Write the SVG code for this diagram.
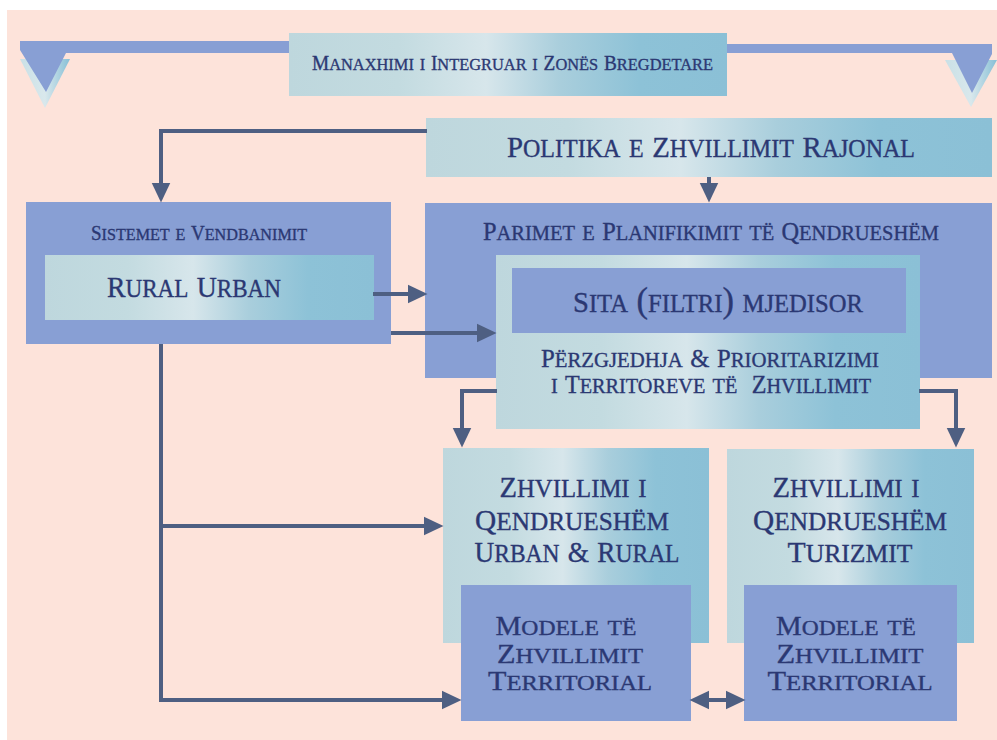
<svg xmlns="http://www.w3.org/2000/svg" width="997" height="740" viewBox="0 0 997 740">
<defs>
<style>
.t{font-family:"Liberation Serif","DejaVu Serif",serif;font-variant:small-caps;fill:#2b3873;stroke:#2b3873;stroke-width:0.35;text-anchor:middle}
.blue{fill:#889fd4}
.grad{fill:url(#g)}
.ln{fill:none;stroke:#4e5f82;stroke-width:4}
.ar{marker-end:url(#ah)}
</style>
<linearGradient id="g" x1="0" y1="0" x2="1" y2="0">
<stop offset="0" stop-color="#bed7dd"/>
<stop offset="0.25" stop-color="#c3dbe0"/>
<stop offset="0.45" stop-color="#d7e6eb"/>
<stop offset="0.62" stop-color="#a9cedc"/>
<stop offset="0.8" stop-color="#8dc2d7"/>
<stop offset="1" stop-color="#8bc0d6"/>
</linearGradient>
<linearGradient id="gt" x1="0" y1="0" x2="1" y2="0">
<stop offset="0" stop-color="#c9e0e6"/>
<stop offset="0.5" stop-color="#d9e8ec"/>
<stop offset="1" stop-color="#86bfd6"/>
</linearGradient>
<marker id="ah" markerUnits="userSpaceOnUse" markerWidth="20" markerHeight="20" viewBox="0 0 19 18" refX="9" refY="9" orient="auto">
<path d="M0,0 L19,9 L0,18 z" fill="#4e5f82"/>
</marker>
<marker id="ahs" markerUnits="userSpaceOnUse" markerWidth="20" markerHeight="20" viewBox="0 0 19 18" refX="10" refY="9" orient="auto">
<path d="M19,0 L0,9 L19,18 z" fill="#4e5f82"/>
</marker>
</defs>
<rect x="7" y="10" width="990" height="730" fill="#fde3da"/>

<g id="top-bar">
<polygon points="20,59 70,59 45,108" fill="url(#gt)"/>
<polygon points="945,60 997,60 971,107" fill="url(#gt)"/>
<polygon class="blue" points="20,41 290,41 290,53 66,53 46,92 20,50"/>
<polygon class="blue" points="727,44 992,44 992,54 972,93 952,53 727,53"/>
</g>

<g id="banner">
<rect class="grad" x="289" y="33" width="438" height="63"/>
<text class="t" x="512.5" y="70" font-size="24" textLength="401" lengthAdjust="spacingAndGlyphs"><tspan font-size="20">M</tspan>anaxhimi i <tspan font-size="20">I</tspan>ntegruar i <tspan font-size="20">Z</tspan>onës <tspan font-size="20">B</tspan>regdetare</text>
</g>

<g id="politika">
<rect class="grad" x="426" y="118" width="566" height="59"/>
<text class="t" x="711" y="157" font-size="36" textLength="408" lengthAdjust="spacingAndGlyphs"><tspan font-size="30">P</tspan>olitika e <tspan font-size="30">Z</tspan>hvillimit <tspan font-size="30">R</tspan>ajonal</text>
</g>

<g id="sistemet">
<rect class="blue" x="26" y="202" width="365" height="142"/>
<text class="t" x="199" y="240" font-size="24" textLength="216" lengthAdjust="spacingAndGlyphs"><tspan font-size="20">S</tspan>istemet e <tspan font-size="20">V</tspan>endbanimit</text>
</g>
<g id="rural-urban">
<rect class="grad" x="45" y="255" width="329" height="65"/>
<text class="t" x="194" y="297" font-size="36" textLength="174" lengthAdjust="spacingAndGlyphs"><tspan font-size="30">R</tspan>ural <tspan font-size="30">U</tspan>rban</text>
</g>

<g id="parimet">
<rect class="blue" x="425" y="203" width="567" height="175"/>
<text class="t" x="711" y="240" font-size="30" textLength="456" lengthAdjust="spacingAndGlyphs"><tspan font-size="25">P</tspan>arimet e <tspan font-size="25">P</tspan>lanifikimit të <tspan font-size="25">Q</tspan>endrueshëm</text>
</g>
<g id="perzgjedhja">
<rect class="grad" x="496" y="255" width="424" height="174"/>
<text class="t" x="710" y="367" font-size="30" textLength="338" lengthAdjust="spacingAndGlyphs"><tspan font-size="25">P</tspan>ërzgjedhja <tspan font-size="25">&amp;</tspan> <tspan font-size="25">P</tspan>rioritarizimi</text>
<text class="t" x="711" y="393" font-size="30" textLength="320" lengthAdjust="spacingAndGlyphs" xml:space="preserve">i <tspan font-size="25">T</tspan>erritoreve të  <tspan font-size="25">Z</tspan>hvillimit</text>
</g>
<g id="sita">
<rect class="blue" x="512" y="268" width="394" height="65"/>
<text class="t" x="718" y="312" font-size="35" textLength="290" lengthAdjust="spacingAndGlyphs"><tspan font-size="29">S</tspan>ita (filtri) mjedisor</text>
</g>

<g id="zhvillimi-urban">
<rect class="grad" x="443" y="448" width="266" height="195"/>
<text class="t" x="573" y="497" font-size="35" textLength="147" lengthAdjust="spacingAndGlyphs"><tspan font-size="29">Z</tspan>hvillimi i</text>
<text class="t" x="572" y="530" font-size="35" textLength="194" lengthAdjust="spacingAndGlyphs"><tspan font-size="29">Q</tspan>endrueshëm</text>
<text class="t" x="577" y="562" font-size="35" textLength="205" lengthAdjust="spacingAndGlyphs"><tspan font-size="29">U</tspan>rban <tspan font-size="29">&amp;</tspan> <tspan font-size="29">R</tspan>ural</text>
</g>
<g id="zhvillimi-turizmit">
<rect class="grad" x="727" y="449" width="247" height="194"/>
<text class="t" x="846" y="497" font-size="35" textLength="147" lengthAdjust="spacingAndGlyphs"><tspan font-size="29">Z</tspan>hvillimi i</text>
<text class="t" x="850" y="530" font-size="35" textLength="194" lengthAdjust="spacingAndGlyphs"><tspan font-size="29">Q</tspan>endrueshëm</text>
<text class="t" x="850" y="562" font-size="35" textLength="125" lengthAdjust="spacingAndGlyphs"><tspan font-size="29">T</tspan>urizmit</text>
</g>

<g id="modele-1">
<rect class="blue" x="461" y="585" width="230" height="136"/>
<text class="t" x="566" y="635" font-size="32" textLength="141" lengthAdjust="spacingAndGlyphs"><tspan font-size="27">M</tspan>odele të</text>
<text class="t" x="570" y="663" font-size="32" textLength="146" lengthAdjust="spacingAndGlyphs"><tspan font-size="27">Z</tspan>hvillimit</text>
<text class="t" x="570" y="690" font-size="32" textLength="164" lengthAdjust="spacingAndGlyphs"><tspan font-size="27">T</tspan>erritorial</text>
</g>
<g id="modele-2">
<rect class="blue" x="744" y="585" width="213" height="136"/>
<text class="t" x="846" y="635" font-size="32" textLength="140" lengthAdjust="spacingAndGlyphs"><tspan font-size="27">M</tspan>odele të</text>
<text class="t" x="850" y="663" font-size="32" textLength="147" lengthAdjust="spacingAndGlyphs"><tspan font-size="27">Z</tspan>hvillimit</text>
<text class="t" x="850" y="690" font-size="32" textLength="165" lengthAdjust="spacingAndGlyphs"><tspan font-size="27">T</tspan>erritorial</text>
</g>

<g id="connectors">
<path class="ln ar" d="M427,131 H161 V192"/>
<path class="ln ar" d="M709,177 V192"/>
<path class="ln ar" d="M373,294 H417"/>
<path class="ln ar" d="M391,333 H486"/>
<path class="ln ar" d="M497,391 H462 V437"/>
<path class="ln ar" d="M919,391 H956 V437"/>
<path class="ln ar" d="M161,344 V700 H451"/>
<path class="ln ar" d="M161,526 H433"/>
<path class="ln" d="M700,700 H735" marker-start="url(#ahs)" marker-end="url(#ah)"/>
</g>
</svg>
